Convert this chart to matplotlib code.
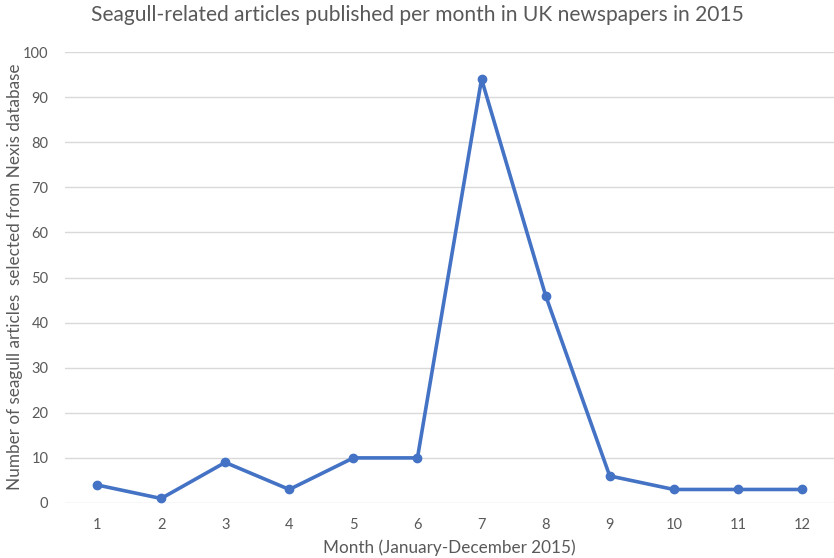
import matplotlib
matplotlib.use("Agg")
import matplotlib.pyplot as plt

months = [1, 2, 3, 4, 5, 6, 7, 8, 9, 10, 11, 12]
articles = [4, 1, 9, 3, 10, 10, 94, 46, 6, 3, 3, 3]
yticks = [0, 10, 20, 30, 40, 50, 60, 70, 80, 90, 100]

plt.rcParams['font.family'] = ['Lato', 'DejaVu Sans']
gray = '#595959'

fig = plt.figure(figsize=(8.34, 5.58), dpi=100)
ax = fig.add_axes([65/834, 55/558, 1 - 65/834, (503-52)/558])

ax.plot(months, articles, color='#4472C4', lw=2.6, marker='o', ms=6, zorder=3)

ax.set_xlim(0.5, 12.5)
ax.set_ylim(0, 100)
ax.set_yticks(yticks)
ax.set_xticks(months)
ax.tick_params(length=0, colors=gray, labelsize=10.5)
ax.tick_params(axis='x', pad=11)
ax.tick_params(axis='y', pad=12)
ax.grid(axis='y', color='#D9D9D9', lw=1)
ax.set_axisbelow(True)
for s in ax.spines.values():
    s.set_visible(False)

ax.set_xlabel('Month (January-December 2015)', color=gray, fontsize=12.3, labelpad=5)
fig.text(15/834, 1 - 277/558, 'Number of seagull articles  selected from Nexis database',
         rotation=90, ha='center', va='center', color=gray, fontsize=12.3)
fig.text(0.5, 1 - 15/558, 'Seagull-related articles published per month in UK newspapers in 2015',
         ha='center', va='center', color=gray, fontsize=15.1)

fig.savefig('out.png', dpi=100)
